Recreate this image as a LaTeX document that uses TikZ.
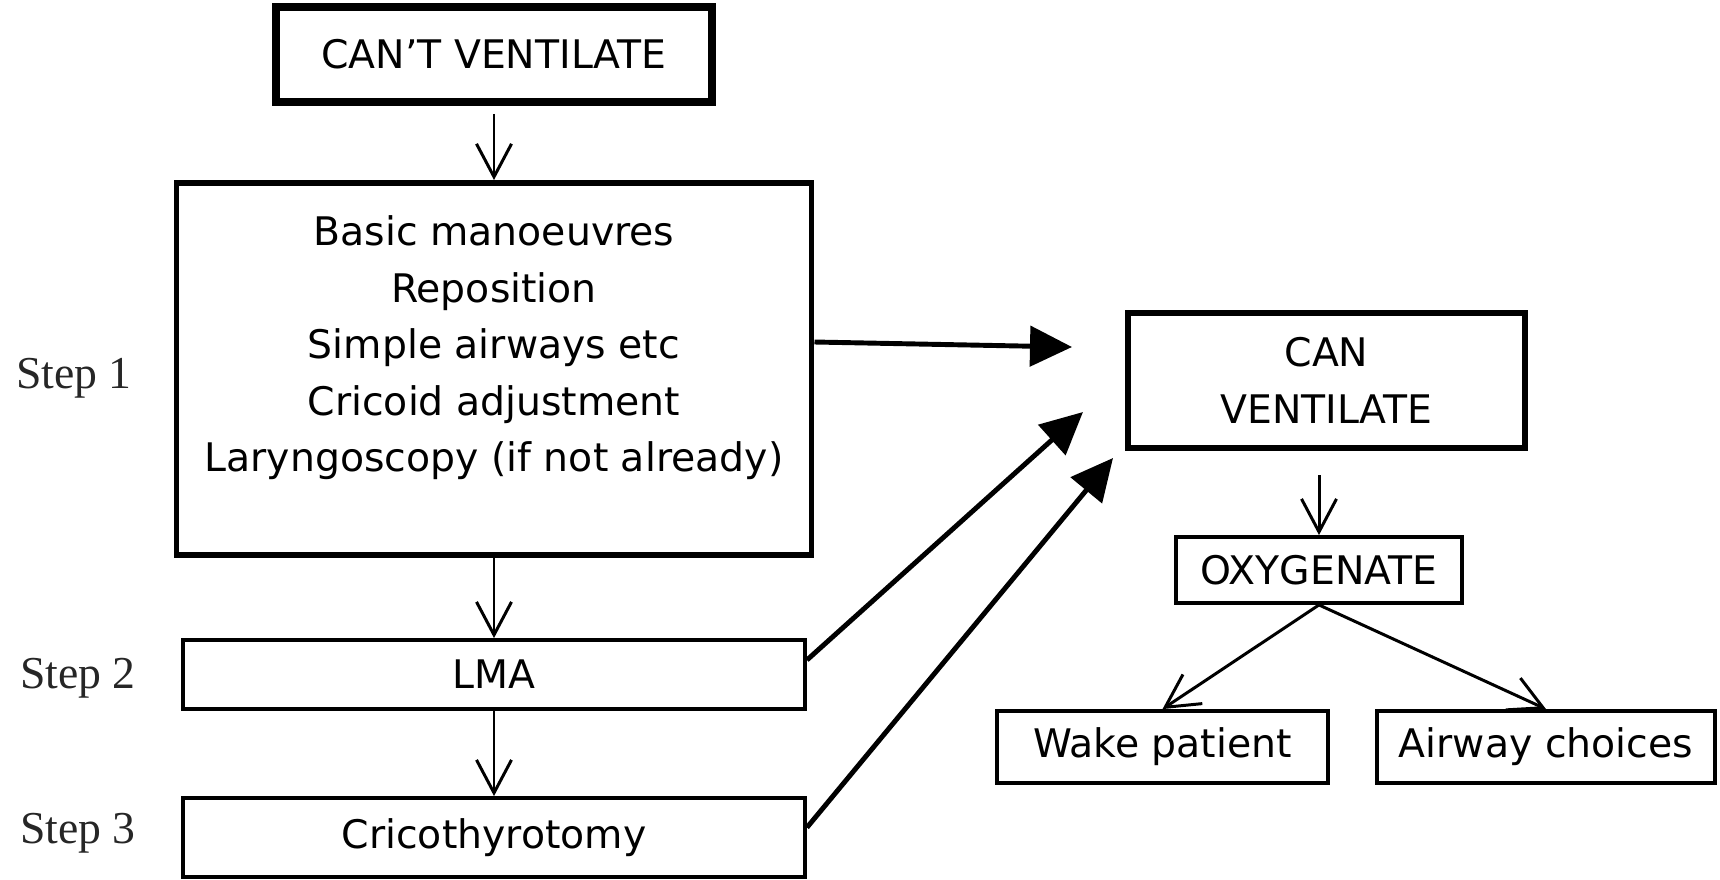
\documentclass[tikz,border=0pt]{standalone}
\usepackage{fontspec}
\setmainfont{DejaVu Sans}
\newfontfamily\stepfont{Liberation Serif}
\usetikzlibrary{arrows.meta}

\begin{document}
\begin{tikzpicture}
	% styles
	\tikzstyle{box} = [draw,line width=1.1pt,inner sep=0pt,align=center,font=\fontsize{11.2}{16.1}\selectfont]
	\tikzstyle{mainbox} = [box,line width=2pt]
	\tikzstyle{steplbl} = [font=\stepfont\fontsize{13}{15}\selectfont,text=black!85]
	\tikzstyle{thinarrow} = [line width=0.85pt,-{Straight Barb[length=0.33cm,width=0.35cm]}]
	\tikzstyle{bigarrow} = [line width=1.4pt,-{Triangle[length=0.42cm,width=0.40cm]}]
	
	% bounding box
	\useasboundingbox (0,0) rectangle (17.2,8.79);
	
	% left column
	\node[mainbox,line width=2.2pt,minimum width=4.36cm,minimum height=0.95cm] (cant) at (4.94,8.245) {CAN'T VENTILATE};
	\node[box,line width=1.7pt,minimum width=6.35cm,minimum height=3.72cm] (s1) at (4.94,5.10)
	{Basic manoeuvres\\Reposition\\Simple airways etc\\Cricoid adjustment\\Laryngoscopy (if not already)\\[-0.06cm]\mbox{}};
	\node[box,minimum width=6.22cm,minimum height=0.69cm] (lma) at (4.94,2.045) {LMA};
	\node[box,minimum width=6.22cm,minimum height=0.79cm] (crico) at (4.94,0.415) {Cricothyrotomy};
	
	% step labels
	\node[steplbl] (step1) at (0.74,5.01) {Step 1};
	\node[steplbl] (step2) at (0.78,2.01) {Step 2};
	\node[steplbl] (step3) at (0.78,0.46) {Step 3};
	
	% right column
	\node[mainbox,line width=1.8pt,minimum width=3.97cm,minimum height=1.35cm] (can) at (13.265,4.985) {CAN\\VENTILATE};
	\node[box,minimum width=2.86cm,minimum height=0.66cm] (oxy) at (13.19,3.09) {OXYGENATE};
	\node[box,minimum width=3.31cm,minimum height=0.72cm] (wake) at (11.625,1.32) {Wake patient};
	\node[box,minimum width=3.38cm,minimum height=0.72cm] (airway) at (15.46,1.32) {Airway choices};
	
	% arrow tips near CAN VENTILATE
	\coordinate (tip1) at (10.72,5.32);
	\coordinate (tip2) at (10.83,4.67);
	\coordinate (tip3) at (11.13,4.21);
	
	% down the steps
	\draw[thinarrow,shorten <=0.08cm] (cant) -- (s1);
	\draw[thinarrow] (s1) -- (lma);
	\draw[thinarrow] (lma) -- (crico);
	
	% success
	\draw[bigarrow] ([yshift=0.27cm]s1.east) -- (tip1);
	\draw[bigarrow] ([yshift=0.145cm]lma.east) -- (tip2);
	\draw[bigarrow] ([yshift=0.10cm]crico.east) -- (tip3);
	
	% after ventilation
	\draw[thinarrow,shorten <=0.24cm] (oxy.north |- can.south) -- (oxy.north);
	\draw[thinarrow] (oxy.south) -- (wake.north);
	\draw[thinarrow] (oxy.south) -- (airway.north);
\end{tikzpicture}
\end{document}
